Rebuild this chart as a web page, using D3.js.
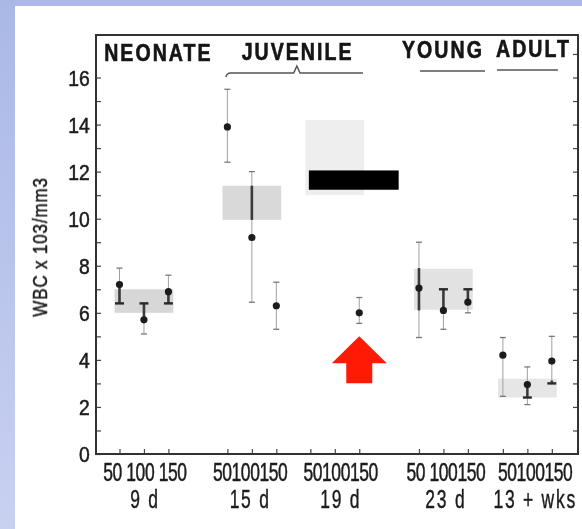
<!DOCTYPE html>
<html>
<head>
<meta charset="utf-8">
<script src="https://cdn.jsdelivr.net/npm/d3@7"></script>
<style>
  html, body { margin: 0; padding: 0; background: #fff; }
  svg { display: block; }
  text { font-family: "Liberation Sans", Arial, sans-serif; }
</style>
</head>
<body>
<svg id="chart" width="582" height="529"></svg>
<script>
// ---- data -------------------------------------------------------------
const groups = ["9 d", "15 d", "19 d", "23 d", "13 + wks"];
const stages = ["NEONATE", "JUVENILE", "YOUNG", "ADULT"];
const doses = [50, 100, 150];
const doseTickLabels = ["50 100 150", "50100150", "50100150", "50 100150", "50100150"];
const yTickValues = [0, 2, 4, 6, 8, 10, 12, 14, 16];
const yMinorValues = [1, 3, 5, 7, 9, 11, 13, 15];

// mean WBC (x10^3/mm3) per age group, one entry per dose (null = not plotted)
const meanWBC = [
  [7.2, 5.7, 6.9],
  [13.9, 9.2, 6.3],
  [null, null, 6.0],
  [7.05, 6.1, 6.45],
  [4.2, 2.95, 3.95]
];
// full range whiskers
const rangeLow = [
  [6.4, 5.1, 6.4],
  [12.4, 6.45, 5.3],
  [null, null, 5.55],
  [4.95, 5.3, 6.0],
  [2.45, 2.1, 3.0]
];
const rangeHigh = [
  [7.9, 6.4, 7.6],
  [15.5, 12.0, 7.3],
  [null, null, 6.65],
  [9.0, 7.0, 7.0],
  [4.95, 3.7, 5.0]
];
// heavy error segments
const errLow = [
  [6.4, 5.7, 6.4],
  [null, 9.95, null],
  [null, null, null],
  [6.1, 6.1, 6.45],
  [null, 2.4, 3.0]
];
const errHigh = [
  [7.2, 6.4, 6.9],
  [null, 11.4, null],
  [null, null, null],
  [7.9, 7.0, 7.0],
  [null, 2.95, 3.12]
];
// shaded control band per age group
const controlLow = [6.0, 9.95, 11.0, 6.13, 2.4];
const controlHigh = [7.0, 11.4, 14.2, 7.87, 3.2];

// ---- layout -----------------------------------------------------------
const W = 582, H = 529;
const frame = { left: 96, right: 578, top: 35, bottom: 454 };
const groupSlot = [1.96, 6.37, 9.76, 14.2, 17.63];   // centre of each age group (slot units)
const groupLabelSlot = [2.0, 6.3, 10.0, 14.3, 17.95];
const stageSlot = [2.55, 8.24, 14.18, 17.88];
const stageBaseline = [61, 60, 58, 57];
const boxHalf = 1.2;
const boxFill = ["#d7d7d7", "#d9d9d9", "#eeeeee", "#e2e2e2", "#e6e6e6"];
const ink = "#1a1a1a";

const svg = d3.select("#chart");
const defs = svg.append("defs");
const bg = defs.append("linearGradient").attr("id", "bg").attr("x1", 0).attr("y1", 0).attr("x2", 0).attr("y2", 1);
bg.append("stop").attr("offset", "0%").attr("stop-color", "#aab8e6");
bg.append("stop").attr("offset", "100%").attr("stop-color", "#c9d1f1");
defs.append("filter").attr("id", "soft").attr("x", "-5%").attr("y", "-5%").attr("width", "110%").attr("height", "110%")
  .append("feGaussianBlur").attr("stdDeviation", 0.5);

svg.append("rect").attr("width", W).attr("height", H).attr("fill", "url(#bg)");
svg.append("rect").attr("x", 15).attr("y", 6).attr("width", W - 15).attr("height", H - 6).attr("fill", "#fff");

const x = d3.scaleLinear().domain([0, 19.7]).range([frame.left, frame.right]);
const y = d3.scaleLinear().domain([0, 16]).range([frame.bottom, 77.5]);
const px = (g, d) => x(groupSlot[g] + (d - 1));

const g = svg.append("g").attr("filter", "url(#soft)");

// condensed text helper: horizontal squeeze around the anchor point
function squeezed(sel, sx) {
  return sel.attr("transform", function () {
    const t = d3.select(this);
    return `translate(${t.attr("data-x")},${t.attr("data-y")}) scale(${sx},1)`;
  });
}
// slightly heavier printed look
const inked = (sel, w) => sel.attr("stroke", ink).attr("stroke-width", w).attr("paint-order", "stroke");

// control bands
g.append("g").selectAll("rect").data(groups).join("rect")
  .attr("x", (_, i) => x(groupSlot[i] - boxHalf))
  .attr("width", (_, i) => x(groupSlot[i] + boxHalf) - x(groupSlot[i] - boxHalf))
  .attr("y", (_, i) => y(controlHigh[i]))
  .attr("height", (_, i) => y(controlLow[i]) - y(controlHigh[i]))
  .attr("fill", (_, i) => boxFill[i]);

// axes
const tickStyle = sel => {
  sel.select(".domain").remove();
  sel.selectAll(".tick line").attr("stroke", "#444").attr("stroke-width", 1.2);
};
g.append("g").attr("transform", `translate(${frame.left},0)`)
  .call(d3.axisLeft(y).tickValues(yTickValues).tickSizeInner(-5).tickSizeOuter(0).tickPadding(7))
  .call(tickStyle)
  .call(s => s.selectAll("text")
    .attr("font-family", "Liberation Sans, Arial, sans-serif")
    .attr("font-size", 22).attr("fill", ink).attr("dy", "0.36em")
    .attr("transform", "scale(0.88,1)")
    .call(inked, 0.5));
g.append("g").attr("transform", `translate(${frame.left},0)`)
  .call(d3.axisLeft(y).tickValues(yMinorValues).tickSizeInner(-5).tickSizeOuter(0).tickFormat(""))
  .call(tickStyle);
g.append("g").attr("transform", `translate(${frame.right},0)`)
  .call(d3.axisRight(y).tickValues(d3.range(1, 18)).tickSizeInner(-5).tickSizeOuter(0).tickFormat(""))
  .call(tickStyle);
const doseSlots = groups.flatMap((_, gi) => doses.map((_, di) => groupSlot[gi] + di - 1));
g.append("g").attr("transform", `translate(0,${frame.bottom})`)
  .call(d3.axisBottom(x).tickValues(doseSlots).tickSizeInner(-5).tickSizeOuter(0).tickFormat(""))
  .call(tickStyle);

// frame
g.append("rect").attr("x", frame.left).attr("y", frame.top)
  .attr("width", frame.right - frame.left).attr("height", frame.bottom - frame.top)
  .attr("fill", "none").attr("stroke", "#333").attr("stroke-width", 2);

// dose and age labels
g.append("g").selectAll("text").data(doseTickLabels).join("text")
  .attr("data-x", (_, i) => x(groupLabelSlot[i])).attr("data-y", 481)
  .attr("text-anchor", "middle").attr("font-size", 25).attr("letter-spacing", -0.6)
  .attr("fill", ink).text(d => d)
  .call(inked, 0.5)
  .call(squeezed, 0.7);
g.append("g").selectAll("text").data(groups).join("text")
  .attr("data-x", (_, i) => x(groupLabelSlot[i])).attr("data-y", 508)
  .attr("text-anchor", "middle").attr("font-size", 25).attr("letter-spacing", 2.5)
  .attr("fill", ink).text(d => d)
  .call(inked, 0.4)
  .call(squeezed, 0.7);

// y title
g.append("text")
  .attr("transform", "translate(47,247) rotate(-90) scale(0.85,1)")
  .attr("text-anchor", "middle").attr("font-size", 20).attr("letter-spacing", 1)
  .attr("fill", ink).text("WBC x 103/mm3")
  .call(inked, 0.5);

// stage headings
g.append("g").selectAll("text").data(stages).join("text")
  .attr("data-x", (_, i) => x(stageSlot[i])).attr("data-y", (_, i) => stageBaseline[i])
  .attr("text-anchor", "middle").attr("font-size", 23).attr("font-weight", "bold")
  .attr("letter-spacing", 2.4).attr("fill", "#121212").text(d => d)
  .call(inked, 0.6)
  .call(squeezed, 0.85);
const ul = g.append("g").attr("fill", "none").attr("stroke", "#555").attr("stroke-width", 1.5);
ul.append("path").attr("d", `M${x(5.31)},77 Q${x(5.35)},73 ${x(5.5)},73 H${x(8.08)} L${x(8.21)},66 L${x(8.34)},73 H${x(10.91)}`);
ul.append("path").attr("d", `M${x(13.24)},71 H${x(15.9)}`);
ul.append("path").attr("d", `M${x(16.39)},70 H${x(18.88)}`);

// error bars and means
const cells = [];
meanWBC.forEach((row, gi) => row.forEach((m, di) => {
  if (m != null) cells.push({ gi, di, m, lo: rangeLow[gi][di], hi: rangeHigh[gi][di], elo: errLow[gi][di], ehi: errHigh[gi][di] });
}));
const eb = g.append("g");
const cap = (cx, v, half, col, sw) => eb.append("line")
  .attr("x1", cx - half).attr("x2", cx + half).attr("y1", y(v)).attr("y2", y(v))
  .attr("stroke", col).attr("stroke-width", sw);
cells.forEach(c => {
  const cx = px(c.gi, c.di);
  eb.append("line").attr("x1", cx).attr("x2", cx).attr("y1", y(c.lo)).attr("y2", y(c.hi))
    .attr("stroke", "#a0a0a0").attr("stroke-width", 1);
  [c.lo, c.hi].forEach(v => cap(cx, v, 3, "#777", 1.3));
  if (c.elo != null) {
    eb.append("line").attr("x1", cx).attr("x2", cx).attr("y1", y(c.elo)).attr("y2", y(c.ehi))
      .attr("stroke", "#3a3a3a").attr("stroke-width", 2.6);
    const touchesMean = Math.abs(c.elo - c.m) < 0.05 || Math.abs(c.ehi - c.m) < 0.05;
    if (touchesMean) {
      [c.elo, c.ehi].filter(v => Math.abs(v - c.m) > 0.05).forEach(v => cap(cx, v, 4.5, "#2a2a2a", 2.4));
    } else if (c.ehi - c.elo < 0.3) {
      cap(cx, c.elo, 4.5, "#2a2a2a", 2.4);
    }
  }
});
g.append("g").selectAll("circle").data(cells).join("circle")
  .attr("cx", d => px(d.gi, d.di)).attr("cy", d => y(d.m)).attr("r", 3.6).attr("fill", "#1c1c1c");

// annotations: redaction bar and pointer arrow
const redact = { s0: 8.7, s1: 12.37, v0: 11.23, v1: 12.05 };
svg.append("rect").attr("x", x(redact.s0)).attr("y", y(redact.v1))
  .attr("width", x(redact.s1) - x(redact.s0)).attr("height", y(redact.v0) - y(redact.v1)).attr("fill", "#000");

const arrowTip = 5.0;
const ax = px(2, 2), ay = y(arrowTip);
svg.append("path").attr("fill", "#ff1a06")
  .attr("d", `M${ax},${ay} L${ax + 27.5},${ay + 27} L${ax + 13},${ay + 27} L${ax + 13},${ay + 47} L${ax - 13},${ay + 47} L${ax - 13},${ay + 27} L${ax - 27.5},${ay + 27} Z`);
</script>
</body>
</html>
